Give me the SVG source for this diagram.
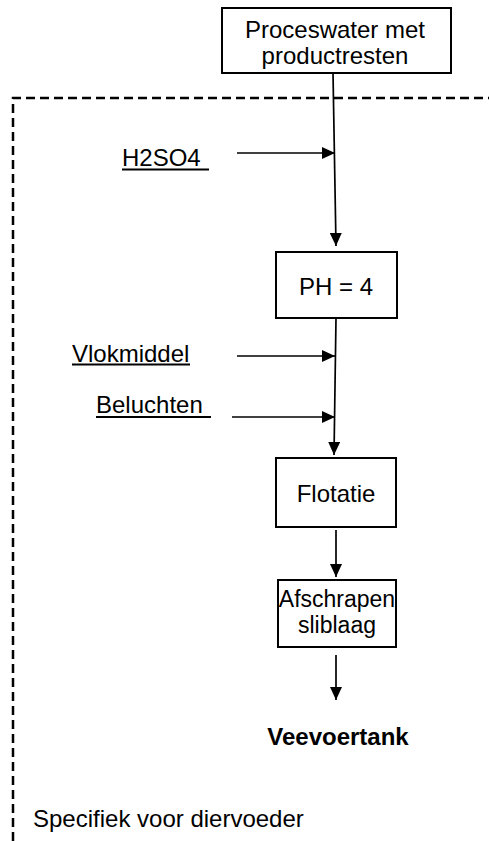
<svg xmlns="http://www.w3.org/2000/svg" width="489" height="841" viewBox="0 0 489 841">
<style>
text{font-family:"Liberation Sans",Arial,sans-serif;font-size:24px;fill:#000}
.c{text-anchor:middle}
.s{font-size:23px}
.box{fill:#fff;stroke:#000;stroke-width:2}
.ln{fill:none;stroke:#000;stroke-width:1.7}
.u{stroke:#000;stroke-width:2.2}
</style>
<defs>
<marker id="ah" markerUnits="userSpaceOnUse" markerWidth="13" markerHeight="12" refX="13" refY="6" orient="auto">
<path d="M0,0 L13,6 L0,12 z" fill="#000"/>
</marker>
</defs>
<path d="M13,841 V98 H489" fill="none" stroke="#000" stroke-width="2.5" stroke-dasharray="9 5"/>
<g id="connectors">
<line class="ln" x1="333" y1="73" x2="336" y2="246" marker-end="url(#ah)"/>
<line class="ln" x1="237" y1="153" x2="335" y2="153" marker-end="url(#ah)"/>
<line class="ln" x1="336" y1="318" x2="334" y2="455" marker-end="url(#ah)"/>
<line class="ln" x1="237" y1="356" x2="335" y2="356" marker-end="url(#ah)"/>
<line class="ln" x1="232" y1="417" x2="335" y2="417" marker-end="url(#ah)"/>
<line class="ln" x1="336" y1="530" x2="336" y2="577" marker-end="url(#ah)"/>
<line class="ln" x1="336" y1="655" x2="336" y2="700" marker-end="url(#ah)"/>
</g>
<g id="proceswater">
<rect class="box" x="222" y="8" width="229" height="65"/>
<text class="c" x="335" y="38">Proceswater met</text>
<text class="c" x="335" y="64">productresten</text>
</g>
<g id="h2so4">
<text x="122" y="166">H2SO4</text>
<line class="u" x1="122" y1="169.5" x2="209" y2="169.5"/>
</g>
<g id="ph">
<rect class="box" x="276" y="252" width="121" height="66"/>
<text class="c" x="336" y="295">PH = 4</text>
</g>
<g id="vlokmiddel">
<text x="72" y="362">Vlokmiddel</text>
<line class="u" x1="72" y1="364.5" x2="190" y2="364.5"/>
</g>
<g id="beluchten">
<text x="96" y="413">Beluchten</text>
<line class="u" x1="96" y1="417" x2="211" y2="417"/>
</g>
<g id="flotatie">
<rect class="box" x="276" y="458" width="120" height="69"/>
<text class="c" x="336" y="502">Flotatie</text>
</g>
<g id="afschrapen">
<rect class="box" x="278" y="580" width="118" height="67"/>
<text class="c s" x="337" y="607">Afschrapen</text>
<text class="c s" x="337" y="633">sliblaag</text>
</g>
<g id="veevoertank">
<text class="c" x="338" y="745" font-weight="bold">Veevoertank</text>
</g>
<g id="specifiek">
<text x="33" y="827">Specifiek voor diervoeder</text>
</g>
</svg>
